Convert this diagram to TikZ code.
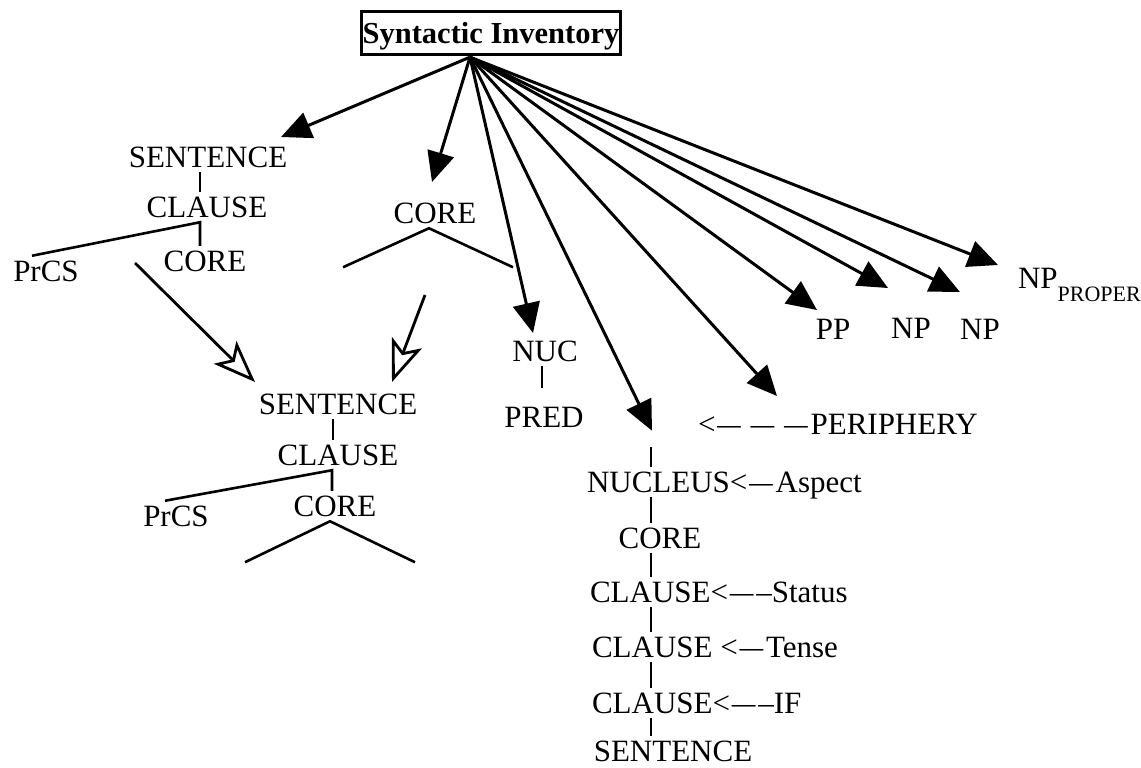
\documentclass[tikz,border=0pt]{standalone}
\usepackage{fontspec}
\setmainfont{Liberation Serif}
\usepackage{graphicx}
\usetikzlibrary{calc,arrows.meta}
\tikzstyle{mot} = [inner sep=0pt, outer sep=5pt, text height=20.5pt, text depth=0pt, font=\fontsize{31}{31}\selectfont]
\tikzstyle{branche} = [line width=2.6pt]
\tikzstyle{fleche} = [line width=3pt, -{Triangle[length=30pt,width=27pt]}]
\tikzstyle{creuse} = [line width=2.8pt, -{Stealth[open,length=42pt,width=32pt,inset=10pt]}]
\newcommand{\ldash}{\kern2pt\scalebox{1.5}[1]{–}\kern3pt}

\begin{document}
\begin{tikzpicture}[x=1pt,y=-1pt]
        \useasboundingbox (0,0) rectangle (1141,768);

        \node (titre) [draw, line width=2.8pt, inner sep=0pt, minimum width=259pt, minimum height=43.5pt, text height=21pt, text depth=0pt, font=\fontsize{30.5}{30.5}\selectfont\bfseries] at (491,33) {Syntactic Inventory};
        \coordinate (hub) at ($(titre.south)+(-21,1)$);

        % premier arbre
        \node (S1) [mot] at (208,157) {SENTENCE};
        \node (C1) [mot] at (207,207) {CLAUSE};
        \node (CORE1) [mot] at (205,261) {CORE};
        \node (PrCS1) [mot] at (46,271) {PrCS};
        \draw[branche] ([xshift=-8pt]S1.south) -- ([xshift=-7pt]C1.north);
        \draw[branche] ([xshift=-14pt]PrCS1.north) -- ([xshift=-7pt]C1.south) -- ([xshift=-5pt]CORE1.north);

        \node (CORE2) [mot] at (435,213) {CORE};
        \draw[branche] ($(CORE2.south)+(-92,39)$) -- ([xshift=-6pt]CORE2.south) -- ($(CORE2.south)+(78,39)$);

        % arbre combine
        \node (S2) [mot] at (338,404) {SENTENCE};
        \node (C2) [mot] at (338,455) {CLAUSE};
        \node (CORE3) [mot] at (335,506) {CORE};
        \node (PrCS2) [mot] at (176,516) {PrCS};
        \draw[branche] ([xshift=-5pt]S2.south) -- ([xshift=-5pt]C2.north);
        \draw[branche] ([xshift=-11pt]PrCS2.north) -- ([xshift=-6pt]C2.south) -- ([xshift=-3pt]CORE3.north);
        \draw[branche] ($(CORE3.south)+(-90,41)$) -- ([xshift=-5pt]CORE3.south) -- ($(CORE3.south)+(80,41)$);

        \draw[creuse] ($(CORE1)+(-70,2)$) -- ($(S2)+(-83,-22)$);
        \draw[creuse] ($(CORE2)+(-10,82)$) -- ($(S2)+(54,-22)$);

        \node (NUC) [mot] at (545,351) {NUC};
        \node (PRED) [mot] at (544,417) {PRED};
        \draw[branche] ([xshift=-3pt]NUC.south) -- ($(PRED.north)+(-2,-14)$);

        % colonne des operateurs
        \coordinate (col) at (651,0);
        \node (PERI) [mot, anchor=west] at (693,424) {<\ldash\,\ldash\,\ldash PERIPHERY};
        \node (NUCLEUS) [mot, anchor=west] at (582,482) {NUCLEUS<\ldash Aspect};
        \node (CORE4) [mot] at (660,538) {CORE};
        \node (CLa) [mot, anchor=west] at (585,592) {CLAUSE<\ldash–Status};
        \node (CLb) [mot, anchor=west] at (587,647) {CLAUSE <\ldash Tense};
        \node (CLc) [mot, anchor=west] at (587,703) {CLAUSE<\ldash–IF};
        \node (S4) [mot] at (673,751) {SENTENCE};
        \draw[branche] ($(NUCLEUS.north -| col)+(0,-20)$) -- (NUCLEUS.north -| col);
        \draw[branche] (NUCLEUS.south -| col) -- (CORE4.north -| col);
        \draw[branche] (CORE4.south -| col) -- (CLa.north -| col);
        \draw[branche] (CLa.south -| col) -- (CLb.north -| col);
        \draw[branche] (CLb.south -| col) -- (CLc.north -| col);
        \draw[branche] (CLc.south -| col) -- (S4.north -| col);

        \node (PP) [mot] at (833,329) {PP};
        \node (NP1) [mot] at (911,328) {NP};
        \node (NP2) [mot] at (980,329) {NP};
        \node (NPp) [mot, anchor=west] at (1013,278) {NP\raisebox{-13pt}{\fontsize{22}{22}\selectfont PROPER}};

        % fleches depuis l'inventaire
        \draw[fleche] (hub) -- ($(S1)+(73,-20)$);
        \draw[fleche] (hub) -- ($(CORE2)+(-3,-31)$);
        \draw[fleche] (hub) -- ($(NUC)+(-12,-18)$);
        \draw[fleche] (hub) -- ($(NUCLEUS.north -| col)+(1,-36)$);
        \draw[fleche] (hub) -- ($(PERI.west)+(84,-28)$);
        \draw[fleche] (hub) -- ($(PP)+(-16,-19)$);
        \draw[fleche] (hub) -- ($(NP1)+(-23,-40)$);
        \draw[fleche] (hub) -- ($(NP2)+(-20,-37)$);
        \draw[fleche] (hub) -- ($(NPp.west)+(-15,-13)$);

    \end{tikzpicture}
\end{document}
